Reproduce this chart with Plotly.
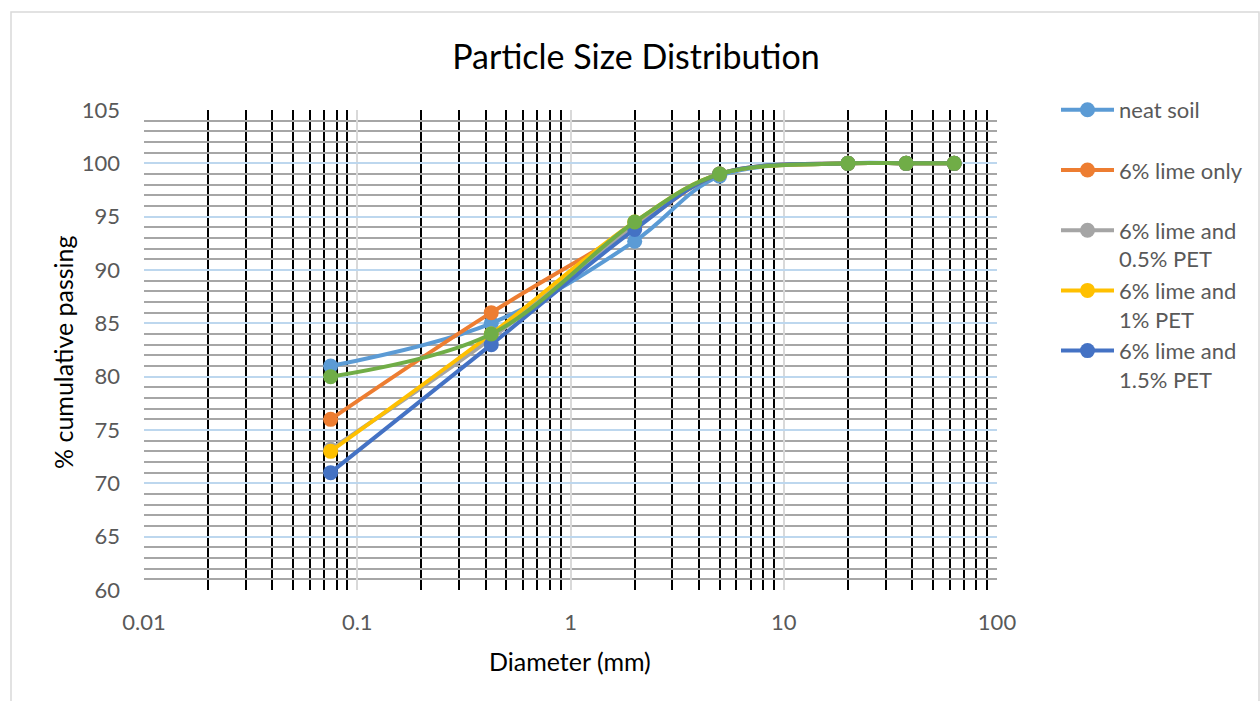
import plotly.graph_objects as go

# ---- data ----
diameter_mm = [0.075, 0.425, 2, 5, 20, 37.5, 63]
neat_soil = [81.0, 85.0, 92.7, 98.8, 100, 100, 100]
lime_only = [76.0, 86.0, 94.0, 99.0, 100, 100, 100]
lime_pet05 = [73.2, 83.6, 94.2, 99.0, 100, 100, 100]
lime_pet1 = [73.0, 84.0, 94.5, 99.0, 100, 100, 100]
lime_pet15 = [71.0, 83.0, 93.8, 99.0, 100, 100, 100]
lime_pet2 = [80.0, 84.0, 94.5, 99.0, 100, 100, 100]

series_names = ["neat soil", "6% lime only", "6% lime and<br>0.5% PET",
                "6% lime and<br>1% PET", "6% lime and<br>1.5% PET", "6% lime and<br>2% PET"]
series_values = [neat_soil, lime_only, lime_pet05, lime_pet1, lime_pet15, lime_pet2]
series_colors = ["#5B9BD5", "#ED7D31", "#A5A5A5", "#FFC000", "#4472C4", "#70AD47"]
series_in_legend = [True, True, True, True, True, False]

y_ticks = [60, 65, 70, 75, 80, 85, 90, 95, 100, 105]
x_ticks = [0.01, 0.1, 1, 10, 100]
x_tick_labels = ["0.01", "0.1", "1", "10", "100"]

FONT = "Lato"

fig = go.Figure()
for name, vals, col, show in zip(series_names, series_values, series_colors, series_in_legend):
    label = name if "<br>" in name else name + "<br>\u00a0"
    fig.add_trace(go.Scatter(
        x=diameter_mm, y=vals, name=label, mode="lines+markers",
        line=dict(color=col, width=4, shape="spline", smoothing=1),
        marker=dict(color=col, size=15),
        showlegend=show, legendgroup=name,
    ))

minor_x = [k * 10 ** n for n in range(-2, 2) for k in range(2, 10)]

fig.update_xaxes(
    type="log", range=[-2, 2], tickvals=x_ticks, ticktext=x_tick_labels,
    showgrid=True, gridcolor="#D9D9D9", gridwidth=2,
    minor=dict(tickvals=minor_x, showgrid=True, gridcolor="#000000", gridwidth=2),
    showline=False, zeroline=False, ticks="",
    tickfont=dict(family=FONT, size=22, color="#595959"),
    ticklabelstandoff=17,
)
fig.update_yaxes(
    range=[60, 105], tickvals=y_ticks,
    showgrid=True, gridcolor="#BDD7EE", gridwidth=1.5,
    minor=dict(dtick=1, showgrid=True, gridcolor="#A6A6A6", gridwidth=1.5),
    showline=False, zeroline=False, ticks="",
    tickfont=dict(family=FONT, size=22, color="#595959"),
    ticklabelstandoff=23,
)

W, H = 1260, 701
L, R, T, B = 144, 997, 110, 590
pw, ph = R - L, B - T

def px(xp):
    return (xp - L) / pw

def py(yp):
    return (B - yp) / ph

fig.update_layout(
    width=W, height=H,
    margin=dict(l=L, r=W - R, t=T, b=H - B),
    paper_bgcolor="white", plot_bgcolor="white",
    font=dict(family=FONT),
    title=dict(text="Particle Size Distribution", x=636 / W, xanchor="center",
               y=1 - 57 / H, yanchor="middle",
               font=dict(family=FONT, size=34, color="#000000")),
    legend=dict(x=px(1056), y=py(89), xanchor="left", yanchor="top",
                font=dict(family=FONT, size=22, color="#595959"),
                valign="top", tracegroupgap=0, itemwidth=53,
                bgcolor="rgba(0,0,0,0)"),
    showlegend=True,
    annotations=[
        dict(text="Diameter (mm)", x=px(570), y=py(661), xref="paper", yref="paper",
             showarrow=False, xanchor="center", yanchor="middle",
             font=dict(family=FONT, size=25, color="#000000")),
        dict(text="% cumulative passing", x=px(63), y=py(352), xref="paper", yref="paper",
             showarrow=False, xanchor="center", yanchor="middle", textangle=-90,
             font=dict(family=FONT, size=25, color="#000000")),
    ],
    shapes=[
        dict(type="rect", xref="paper", yref="paper", x0=px(11), x1=px(1259),
             y0=py(720), y1=py(12), line=dict(color="#D9D9D9", width=1.5),
             fillcolor="rgba(0,0,0,0)", layer="below"),
    ],
)

fig.write_html("out.html")
